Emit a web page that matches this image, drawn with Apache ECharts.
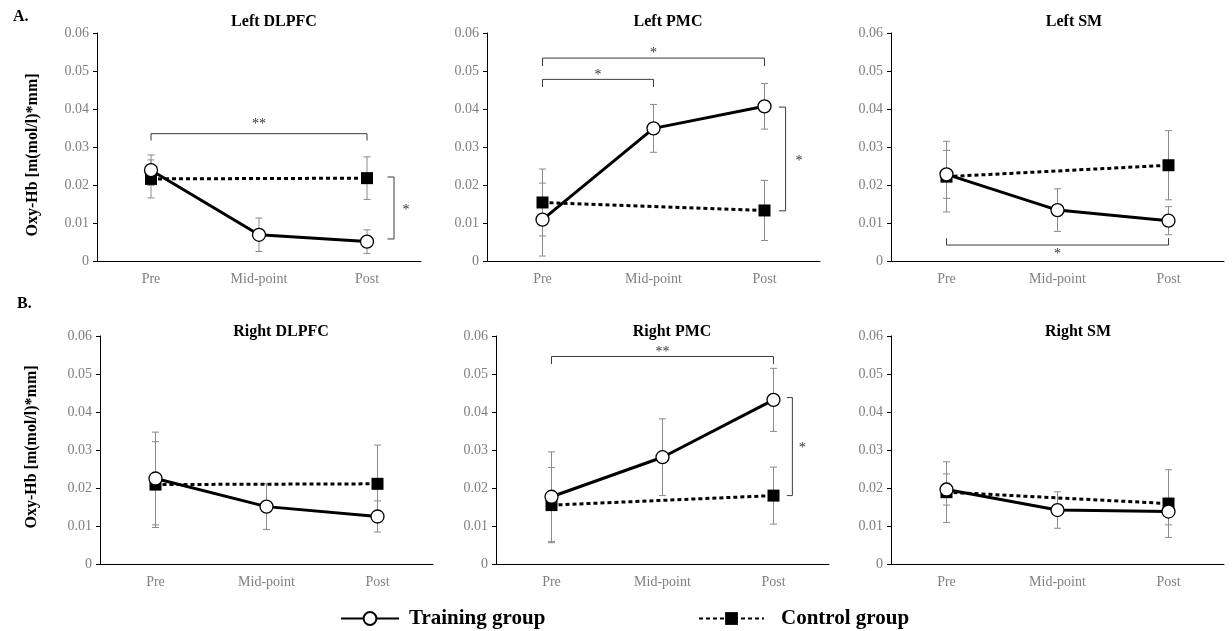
<!DOCTYPE html>
<html>
<head>
<meta charset="utf-8">
<script src="https://cdn.jsdelivr.net/npm/echarts@6/dist/echarts.min.js"></script>
<style>
  html, body { margin: 0; padding: 0; background: #fff; }
  #chart { width: 1232px; height: 631px; }
</style>
</head>
<body>
<div id="chart"></div>
<script>
// Values
const categories = ['Pre', 'Mid-point', 'Post']
const panelTitles = ['Left DLPFC', 'Left PMC', 'Left SM', 'Right DLPFC', 'Right PMC', 'Right SM']
const yTicks = [0, 0.01, 0.02, 0.03, 0.04, 0.05, 0.06]

const trainingMean = [
    [0.0239, 0.0069, 0.0051],
    [0.0109, 0.0349, 0.0407],
    [0.0228, 0.0134, 0.0106],
    [0.0225, 0.0151, 0.0125],
    [0.0177, 0.0281, 0.0432],
    [0.0196, 0.0142, 0.0138]
]
const trainingErr = [
    [0.0040, 0.0044, 0.0031],
    [0.0096, 0.0063, 0.0060],
    [0.0063, 0.0056, 0.0037],
    [0.0122, 0.0060, 0.0041],
    [0.0118, 0.0101, 0.0083],
    [0.0041, 0.0048, 0.0035]
]
// control group has no mid-point measurement
const controlMean = [
    [0.0216, null, 0.0218],
    [0.0154, null, 0.0133],
    [0.0222, null, 0.0252],
    [0.0209, null, 0.0211],
    [0.0155, null, 0.0180],
    [0.0189, null, 0.0159]
]
const controlErr = [
    [0.0050, null, 0.0056],
    [0.0088, null, 0.0079],
    [0.0093, null, 0.0091],
    [0.0113, null, 0.0102],
    [0.0099, null, 0.0075],
    [0.0080, null, 0.0089]
]

// significance brackets: panel, from, to, level, tick end, label, label level
const hBrackets = [
    [0, 0, 2, 0.0335, 0.0317, '**', 0.0366],
    [1, 0, 2, 0.0534, 0.0513, '*', 0.0552],
    [1, 0, 1, 0.0478, 0.0458, '*', 0.0495],
    [2, 0, 2, 0.0042, 0.0060, '*', 0.0022],
    [4, 0, 2, 0.0546, 0.0526, '**', 0.0563]
]
// panel, x, tick x, top, bottom, label, label x
const vBrackets = [
    [0, 2.25, 2.19, 0.0221, 0.0058, '*', 2.36],
    [1, 2.19, 2.13, 0.0405, 0.0132, '*', 2.31],
    [4, 2.17, 2.12, 0.0438, 0.0180, '*', 2.26]
]

// layout: left, top, width of each plot area
const gridBoxes = [
    [97, 33, 324], [487, 33, 333], [891, 33, 333],
    [100, 336, 333], [496, 336, 333], [891, 336, 333]
]
const titleCenters = [[269, 9], [663, 9], [1069, 9], [276, 319], [667, 319], [1073, 319]]

const SERIF = "'Liberation Serif', 'Times New Roman', serif"
const GREY = '#808080'
const BRACKET = '#3a3a3a'

function errorBarItem(params, api) {
    const x = api.value(0)
    const lo = api.coord([x, api.value(1)])
    const hi = api.coord([x, api.value(2)])
    const w = 3.5
    const style = { stroke: '#8a8a8a', lineWidth: 1 }
    return {
        type: 'group',
        children: [
            { type: 'line', shape: { x1: lo[0], y1: lo[1], x2: hi[0], y2: hi[1] }, style },
            { type: 'line', shape: { x1: hi[0] - w, y1: hi[1], x2: hi[0] + w, y2: hi[1] }, style },
            { type: 'line', shape: { x1: lo[0] - w, y1: lo[1], x2: lo[0] + w, y2: lo[1] }, style }
        ]
    }
}

function hBracketItem(params, api) {
    const x0 = api.value(0), x1 = api.value(1)
    const a = api.coord([x0, api.value(3)])
    const b = api.coord([x0, api.value(2)])
    const c = api.coord([x1, api.value(2)])
    const d = api.coord([x1, api.value(3)])
    const t = api.coord([(x0 + x1) / 2, api.value(4)])
    return {
        type: 'group',
        children: [
            { type: 'polyline', shape: { points: [a, b, c, d] }, style: { stroke: BRACKET, lineWidth: 1, fill: null } },
            { type: 'text', x: t[0], y: t[1] + 2, style: { text: api.value(5), fill: '#333', font: '14px ' + SERIF, align: 'center', verticalAlign: 'middle' } }
        ]
    }
}

function vBracketItem(params, api) {
    const x = api.value(0), xt = api.value(1)
    const a = api.coord([xt, api.value(2)])
    const b = api.coord([x, api.value(2)])
    const c = api.coord([x, api.value(3)])
    const d = api.coord([xt, api.value(3)])
    const t = api.coord([api.value(4), (api.value(2) + api.value(3)) / 2])
    return {
        type: 'group',
        children: [
            { type: 'polyline', shape: { points: [a, b, c, d] }, style: { stroke: BRACKET, lineWidth: 1, fill: null } },
            { type: 'text', x: t[0], y: t[1] + 2, style: { text: api.value(5), fill: '#333', font: '14px ' + SERIF, align: 'center', verticalAlign: 'middle' } }
        ]
    }
}

const grids = [], xAxes = [], yAxes = [], titles = [], series = []

panelTitles.forEach((name, i) => {
    const [left, top, width] = gridBoxes[i]
    grids.push({ left, top, width, height: 228 })
    titles.push({
        text: name, left: titleCenters[i][0], top: titleCenters[i][1], textAlign: 'center',
        textStyle: { fontFamily: SERIF, fontWeight: 'bold', fontSize: 16, color: '#000' }
    })
    xAxes.push({
        type: 'category', gridIndex: i, data: categories, boundaryGap: true,
        axisLine: { onZero: false, lineStyle: { color: '#000', width: 1 } },
        axisTick: { show: false },
        axisLabel: { color: GREY, fontFamily: SERIF, fontSize: 14, margin: 11 }
    })
    yAxes.push({
        type: 'value', gridIndex: i, min: yTicks[0], max: yTicks[yTicks.length - 1], interval: 0.01,
        axisLine: { show: true, onZero: false, lineStyle: { color: '#000', width: 1 } },
        axisTick: { show: true, length: 4, lineStyle: { color: '#000' } },
        splitLine: { show: false },
        axisLabel: {
            color: GREY, fontFamily: SERIF, fontSize: 14, margin: 8,
            formatter: v => (v === 0 ? '0' : v.toFixed(2))
        }
    })

    const tm = trainingMean[i], te = trainingErr[i]
    const cm = controlMean[i], ce = controlErr[i]

    series.push({
        type: 'custom', xAxisIndex: i, yAxisIndex: i, z: 1, silent: true,
        renderItem: errorBarItem, encode: { x: 0, y: [1, 2] },
        data: tm.map((m, j) => [j, m - te[j], m + te[j]])
    })
    series.push({
        type: 'custom', xAxisIndex: i, yAxisIndex: i, z: 1, silent: true,
        renderItem: errorBarItem, encode: { x: 0, y: [1, 2] },
        data: cm.map((m, j) => (m === null ? null : [j, m - ce[j], m + ce[j]])).filter(d => d)
    })
    series.push({
        name: 'Control group', type: 'line', xAxisIndex: i, yAxisIndex: i, z: 2,
        data: cm, connectNulls: true,
        symbol: 'rect', symbolSize: 12, showAllSymbol: true,
        lineStyle: { color: '#000', width: 3, type: [4, 3] },
        itemStyle: { color: '#000', borderWidth: 0 }
    })
    series.push({
        name: 'Training group', type: 'line', xAxisIndex: i, yAxisIndex: i, z: 3,
        data: tm,
        symbol: 'circle', symbolSize: 13, showAllSymbol: true,
        lineStyle: { color: '#000', width: 3 },
        itemStyle: { color: '#fff', borderColor: '#000', borderWidth: 1.3 }
    })
})

// hidden value axes for the bracket annotations
panelTitles.forEach((name, i) => {
    xAxes.push({ type: 'value', gridIndex: i, min: -0.5, max: 2.5, show: false })
    const hb = hBrackets.filter(b => b[0] === i).map(b => [b[1], b[2], b[3], b[4], b[6], b[5]])
    const vb = vBrackets.filter(b => b[0] === i).map(b => [b[1], b[2], b[3], b[4], b[6], b[5]])
    if (hb.length) {
        series.push({
            type: 'custom', xAxisIndex: 6 + i, yAxisIndex: i, z: 4, silent: true,
            dimensions: ['x0', 'x1', 'y', 'yt', 'ly', { name: 'lab', type: 'ordinal' }],
            renderItem: hBracketItem, data: hb
        })
    }
    if (vb.length) {
        series.push({
            type: 'custom', xAxisIndex: 6 + i, yAxisIndex: i, z: 4, silent: true,
            dimensions: ['x', 'xt', 'y0', 'y1', 'lx', { name: 'lab', type: 'ordinal' }],
            renderItem: vBracketItem, data: vb
        })
    }
})

const chart = echarts.init(document.getElementById('chart'), null, { renderer: 'canvas' })
chart.setOption({
    animation: false,
    backgroundColor: '#fff',
    textStyle: { fontFamily: SERIF },
    title: titles,
    grid: grids,
    xAxis: xAxes,
    yAxis: yAxes,
    legend: [
        {
            data: ['Training group'], left: 335, top: 603, itemWidth: 58, itemHeight: 16,
            textStyle: { fontFamily: SERIF, fontWeight: 'bold', fontSize: 21, color: '#000', padding: [0, 0, 0, 5] },
            selectedMode: false
        },
        {
            data: ['Control group'], left: 693, top: 603, itemWidth: 65, itemHeight: 16,
            textStyle: { fontFamily: SERIF, fontWeight: 'bold', fontSize: 21, color: '#000', padding: [0, 0, 0, 12] },
            selectedMode: false
        }
    ],
    graphic: [
        { type: 'text', left: 13, top: 9, style: { text: 'A.', font: 'bold 16px ' + SERIF, fill: '#000' } },
        { type: 'text', left: 17, top: 296, style: { text: 'B.', font: 'bold 16px ' + SERIF, fill: '#000' } },
        {
            type: 'text', x: 33, y: 155, rotation: Math.PI / 2,
            style: { text: 'Oxy-Hb [m(mol/l)*mm]', font: 'bold 16px ' + SERIF, fill: '#000', align: 'center', verticalAlign: 'middle' }
        },
        {
            type: 'text', x: 32, y: 447, rotation: Math.PI / 2,
            style: { text: 'Oxy-Hb [m(mol/l)*mm]', font: 'bold 16px ' + SERIF, fill: '#000', align: 'center', verticalAlign: 'middle' }
        }
    ],
    series
})
</script>
</body>
</html>
